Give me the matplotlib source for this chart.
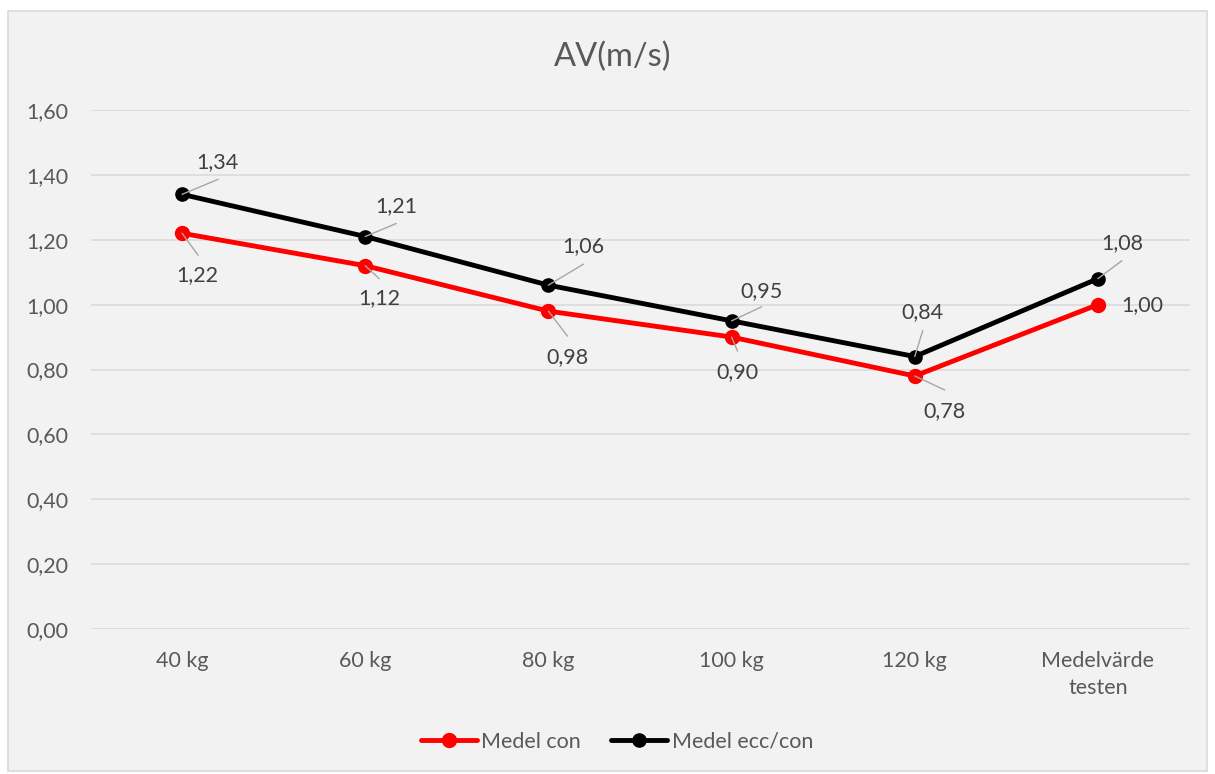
import matplotlib
matplotlib.use("Agg")
import matplotlib.pyplot as plt
from matplotlib.patches import Rectangle

plt.rcParams['font.family'] = ['Lato', 'DejaVu Sans']

categories = ["40 kg", "60 kg", "80 kg", "100 kg", "120 kg", "Medelvärde\ntesten"]
medel_con = [1.22, 1.12, 0.98, 0.90, 0.78, 1.00]
medel_ecc_con = [1.34, 1.21, 1.06, 0.95, 0.84, 1.08]
y_ticks = [0.0, 0.2, 0.4, 0.6, 0.8, 1.0, 1.2, 1.4, 1.6]

# label placement (pixels from the point): text offset, leader end (None = no leader)
con_label_pos = [((15, -42), (16, -22)), ((14, -32), (14, -13)), ((19, -46), (19, -25)),
                 ((6, -35), (6, -14)), ((30, -35), (30, -14)), ((44, 0), None)]
ecc_label_pos = [((35, 32), (36, 15)), ((31, 30), (31, 13)), ((35, 39), (35, 21)),
                 ((30, 30), (30, 14)), ((8, 44), (8, 26)), ((24, 36), (24, 18))]

FS = 15.5
W, H = 1215, 774
fig = plt.figure(figsize=(W / 100, H / 100), dpi=100, facecolor="white")

# chart frame
frame = Rectangle((8 / W, 3 / H), 1199 / W, 760 / H, transform=fig.transFigure,
                  facecolor="#F2F2F2", edgecolor="#D9D9D9", linewidth=1.2, zorder=-10)
fig.add_artist(frame)

ax = fig.add_axes([90.5 / W, 1 - 629 / H, 1099 / W, 519 / H])
ax.set_facecolor("none")
x = list(range(len(categories)))
ax.set_xlim(-0.5, len(categories) - 0.5)
ax.set_ylim(0, 1.6)
for s in ax.spines.values():
    s.set_visible(False)
ax.set_yticks(y_ticks)
ax.set_yticklabels([f"{v:.2f}".replace(".", ",") for v in y_ticks])
ax.set_xticks(x)
ax.set_xticklabels(categories, linespacing=1.4)
ax.tick_params(axis="y", length=0, pad=16, labelsize=FS, labelcolor="#595959")
ax.tick_params(axis="x", length=0, pad=16, labelsize=FS, labelcolor="#595959")
ax.grid(axis="y", color="#D9D9D9", linewidth=1.1)
ax.set_axisbelow(True)

l1, = ax.plot(x, medel_con, color="#FF0000", linewidth=3.5, marker="o", markersize=10,
              solid_capstyle="round", label="Medel con", zorder=3)
l2, = ax.plot(x, medel_ecc_con, color="#000000", linewidth=3.5, marker="o", markersize=9.5,
              solid_capstyle="round", label="Medel ecc/con", zorder=4)


def label_series(values, positions):
    for xi, v, (txt, lead) in zip(x, values, positions):
        if lead is not None:
            ax.annotate("", xy=(xi, v), xytext=lead, textcoords="offset pixels",
                        arrowprops=dict(arrowstyle="-", color="#A6A6A6", lw=1.0,
                                        shrinkA=0, shrinkB=0), zorder=5)
        ax.annotate(f"{v:.2f}".replace(".", ","), xy=(xi, v), xytext=txt,
                    textcoords="offset pixels", ha="center", va="center",
                    fontsize=FS, color="#404040", zorder=6)


label_series(medel_con, con_label_pos)
label_series(medel_ecc_con, ecc_label_pos)

fig.text(613 / W, 1 - 57 / H, "AV(m/s)", ha="center", va="center", fontsize=23.5, color="#595959")

fig.legend(handles=[l1, l2], loc="center", bbox_to_anchor=(617 / W, 1 - 742 / H), ncol=2,
           frameon=False, fontsize=FS, labelcolor="#595959", handlelength=2.6,
           handletextpad=0.2, columnspacing=1.4)

fig.savefig("out.png", dpi=100, facecolor="white")
